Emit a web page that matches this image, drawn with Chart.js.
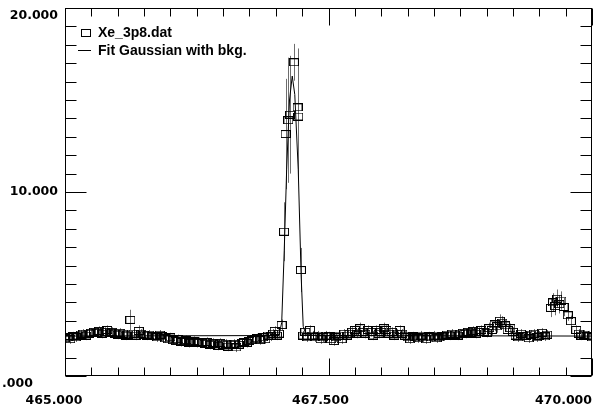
<!DOCTYPE html>
<html>
<head>
<meta charset="utf-8">
<title>Xe_3p8</title>
<script src="https://cdn.jsdelivr.net/npm/chart.js@4.4.1/dist/chart.umd.min.js"></script>
<style>
  html, body { margin: 0; padding: 0; background: #fff; }
  canvas { display: block; }
</style>
</head>
<body>
<canvas id="myChart" width="598" height="413"></canvas>
<script>
// scan data: wavelength, counts, error
const xValues = [
    465.000, 465.025, 465.050, 465.075, 465.100, 465.125, 465.150, 465.175, 465.200, 465.225,
    465.250, 465.275, 465.300, 465.325, 465.350, 465.375, 465.400, 465.425, 465.450, 465.475,
    465.500, 465.525, 465.550, 465.575, 465.600, 465.620, 465.650, 465.675, 465.700, 465.725,
    465.750, 465.775, 465.800, 465.825, 465.850, 465.875, 465.900, 465.925, 465.950, 465.975,
    466.000, 466.025, 466.050, 466.075, 466.100, 466.125, 466.150, 466.175, 466.200, 466.225,
    466.250, 466.275, 466.300, 466.325, 466.350, 466.375, 466.400, 466.425, 466.450, 466.475,
    466.500, 466.525, 466.550, 466.575, 466.600, 466.625, 466.650, 466.675, 466.700, 466.725,
    466.750, 466.775, 466.800, 466.825, 466.850, 466.875, 466.900, 466.925, 466.950, 466.975,
    466.990, 467.010, 467.030, 467.055, 467.078, 467.093, 467.119, 467.135, 467.172, 467.206,
    467.213, 467.238, 467.260, 467.280, 467.300, 467.325, 467.350, 467.375, 467.400, 467.425,
    467.450, 467.475, 467.500, 467.525, 467.550, 467.575, 467.600, 467.625, 467.650, 467.675,
    467.700, 467.725, 467.750, 467.775, 467.800, 467.825, 467.850, 467.875, 467.900, 467.925,
    467.950, 467.975, 468.000, 468.025, 468.050, 468.075, 468.100, 468.125, 468.150, 468.175,
    468.200, 468.225, 468.250, 468.275, 468.300, 468.325, 468.350, 468.375, 468.400, 468.425,
    468.450, 468.475, 468.500, 468.525, 468.550, 468.575, 468.600, 468.625, 468.650, 468.675,
    468.700, 468.725, 468.750, 468.775, 468.800, 468.825, 468.850, 468.875, 468.900, 468.925,
    468.950, 468.975, 469.000, 469.025, 469.050, 469.075, 469.100, 469.125, 469.150, 469.175,
    469.200, 469.225, 469.250, 469.275, 469.300, 469.325, 469.350, 469.375, 469.400, 469.425,
    469.450, 469.475, 469.500, 469.525, 469.550, 469.575, 469.610, 469.630, 469.650, 469.670,
    469.690, 469.710, 469.730, 469.770, 469.800, 469.850, 469.875, 469.900, 469.925, 469.950,
    469.975, 470.000
];
const counts = [
    2.05, 2.10, 2.00, 2.15, 2.10, 2.20, 2.25, 2.30, 2.20, 2.30,
    2.35, 2.40, 2.35, 2.45, 2.30, 2.40, 2.50, 2.35, 2.40, 2.30,
    2.25, 2.35, 2.30, 2.20, 2.25, 3.05, 2.30, 2.20, 2.45, 2.30,
    2.25, 2.20, 2.25, 2.15, 2.20, 2.10, 2.25, 2.15, 2.05, 2.00,
    2.10, 1.95, 1.90, 2.00, 1.85, 1.90, 1.95, 1.80, 1.85, 1.90,
    1.80, 1.85, 1.80, 1.75, 1.85, 1.70, 1.80, 1.75, 1.65, 1.80,
    1.70, 1.75, 1.60, 1.70, 1.75, 1.55, 1.70, 1.80, 1.85, 1.80,
    1.90, 1.95, 2.00, 2.05, 1.95, 2.10, 2.00, 2.20, 2.15, 2.30,
    2.45, 2.20, 2.30, 2.77, 7.84, 13.15, 13.90, 14.20, 17.05, 14.60,
    14.10, 5.76, 2.20, 2.40, 2.10, 2.50, 2.20, 2.10, 2.20, 2.00,
    2.10, 2.20, 2.15, 2.00, 1.90, 2.10, 2.20, 2.00, 2.30, 2.20,
    2.30, 2.40, 2.50, 2.30, 2.60, 2.40, 2.30, 2.50, 2.40, 2.20,
    2.50, 2.30, 2.40, 2.60, 2.50, 2.30, 2.40, 2.20, 2.30, 2.50,
    2.30, 2.20, 2.10, 2.00, 2.15, 2.10, 2.05, 2.20, 2.10, 2.00,
    2.15, 2.10, 2.20, 2.05, 2.10, 2.20, 2.15, 2.25, 2.20, 2.30,
    2.25, 2.20, 2.30, 2.35, 2.30, 2.40, 2.35, 2.45, 2.30, 2.40,
    2.50, 2.40, 2.35, 2.60, 2.50, 2.80, 2.70, 3.00, 2.90, 2.75,
    2.50, 2.60, 2.40, 2.20, 2.10, 2.30, 2.15, 2.20, 2.05, 2.25,
    2.30, 2.10, 2.20, 2.35, 2.15, 2.25, 3.70, 4.00, 3.80, 4.20,
    3.90, 4.10, 3.75, 3.30, 2.98, 2.50, 2.30, 2.20, 2.25, 2.15,
    2.20, 2.10
];
const errors = [
    0.25, 0.25, 0.25, 0.25, 0.25, 0.25, 0.25, 0.25, 0.25, 0.25,
    0.25, 0.25, 0.25, 0.25, 0.25, 0.25, 0.25, 0.25, 0.25, 0.25,
    0.25, 0.25, 0.25, 0.25, 0.25, 0.55, 0.25, 0.25, 0.30, 0.25,
    0.25, 0.25, 0.25, 0.25, 0.25, 0.25, 0.25, 0.25, 0.25, 0.25,
    0.25, 0.25, 0.25, 0.25, 0.25, 0.25, 0.25, 0.25, 0.25, 0.25,
    0.25, 0.25, 0.25, 0.25, 0.25, 0.25, 0.25, 0.25, 0.25, 0.25,
    0.25, 0.25, 0.25, 0.25, 0.25, 0.25, 0.25, 0.25, 0.25, 0.25,
    0.25, 0.25, 0.25, 0.25, 0.25, 0.25, 0.25, 0.25, 0.25, 0.25,
    0.25, 0.25, 0.25, 0.30, 1.60, 3.00, 3.40, 3.20, 1.00, 3.20,
    3.40, 1.20, 0.25, 0.25, 0.25, 0.25, 0.25, 0.25, 0.25, 0.25,
    0.25, 0.25, 0.25, 0.25, 0.25, 0.25, 0.25, 0.25, 0.25, 0.25,
    0.25, 0.25, 0.25, 0.25, 0.30, 0.25, 0.25, 0.25, 0.25, 0.25,
    0.25, 0.25, 0.25, 0.30, 0.25, 0.25, 0.25, 0.25, 0.25, 0.25,
    0.25, 0.25, 0.25, 0.25, 0.25, 0.25, 0.25, 0.25, 0.25, 0.25,
    0.25, 0.25, 0.25, 0.25, 0.25, 0.25, 0.25, 0.25, 0.25, 0.25,
    0.25, 0.25, 0.25, 0.25, 0.25, 0.25, 0.25, 0.25, 0.25, 0.25,
    0.25, 0.25, 0.25, 0.30, 0.30, 0.35, 0.35, 0.35, 0.35, 0.30,
    0.25, 0.25, 0.25, 0.25, 0.25, 0.25, 0.25, 0.25, 0.25, 0.25,
    0.25, 0.25, 0.25, 0.25, 0.25, 0.25, 0.50, 0.50, 0.50, 0.50,
    0.50, 0.50, 0.50, 0.30, 0.30, 0.25, 0.25, 0.25, 0.25, 0.25,
    0.25, 0.25
];

// fitted curve as drawn (gaussian on flat background)
const fitX = [465.000, 467.030, 467.056, 467.080, 467.103, 467.130, 467.156, 467.180, 467.213, 467.240, 467.260, 467.290, 470.000];
const fitY = [2.17, 2.20, 2.90, 6.80, 11.20, 15.00, 16.30, 15.30, 11.20, 5.50, 2.70, 2.20, 2.17];

const xTicks = [465, 467.5, 470];
const xTickLabels = ['465.000', '467.500', '470.000'];
const yTicks = [0, 10, 20];
const yTickLabels = ['.000', '10.000', '20.000'];
const legendLabels = ['Xe_3p8.dat', 'Fit Gaussian with bkg.'];

const LABEL_FONT = 'bold 12.5px "DejaVu Sans"';
const LEGEND_FONT = 'bold 14px "Liberation Sans"';

function makeMarker(w, h) {
    const c = document.createElement('canvas');
    c.width = w;
    c.height = h;
    const g = c.getContext('2d');
    g.strokeStyle = '#000';
    g.lineWidth = 1;
    g.strokeRect(0.5, 0.5, w - 1, h - 1);
    return c;
}
const marker = makeMarker(10, 8);

const errorBars = {
    id: 'errorBars',
    beforeDatasetsDraw(chart) {
        const { ctx, chartArea, scales: { x, y } } = chart;
        ctx.save();
        ctx.beginPath();
        ctx.rect(chartArea.left, chartArea.top, chartArea.right - chartArea.left, chartArea.bottom - chartArea.top);
        ctx.clip();
        ctx.strokeStyle = '#6e6e6e';
        ctx.lineWidth = 1;
        ctx.beginPath();
        xValues.forEach((xv, i) => {
            const px = Math.round(x.getPixelForValue(xv)) + 0.5;
            ctx.moveTo(px, y.getPixelForValue(counts[i] + errors[i]));
            ctx.lineTo(px, y.getPixelForValue(counts[i] - errors[i]));
        });
        ctx.stroke();
        ctx.restore();
    }
};

const frameAndLabels = {
    id: 'frameAndLabels',
    afterDraw(chart) {
        const { ctx, chartArea: a, scales: { x, y } } = chart;
        const L = Math.round(a.left) + 0.5, R = Math.round(a.right) - 0.5;
        const T = Math.round(a.top) + 0.5, B = Math.round(a.bottom) - 0.5;
        ctx.save();
        ctx.strokeStyle = '#000';
        ctx.lineWidth = 1;
        ctx.strokeRect(L, T, R - L, B - T);

        // inward ticks
        ctx.beginPath();
        for (let i = 0; i <= 20; i++) {
            const v = x.min + i * 0.25;
            const px = Math.round(x.getPixelForValue(v)) + 0.5;
            const len = (i % 10 === 0) ? 17 : 8;
            ctx.moveTo(px, B); ctx.lineTo(px, B - len);
            ctx.moveTo(px, T); ctx.lineTo(px, T + len);
        }
        for (let i = 0; i <= 20; i++) {
            const py = Math.round(y.getPixelForValue(y.min + i)) + 0.5;
            const len = (i % 10 === 0) ? 21 : 11;
            ctx.moveTo(L, py); ctx.lineTo(L + len, py);
            ctx.moveTo(R, py); ctx.lineTo(R - len, py);
        }
        ctx.stroke();

        // tick labels
        ctx.fillStyle = '#000';
        ctx.font = LABEL_FONT;
        ctx.textBaseline = 'middle';
        xTicks.forEach((v, i) => {
            const px = x.getPixelForValue(v);
            if (i === xTicks.length - 1) {
                ctx.textAlign = 'right';
                ctx.fillText(xTickLabels[i], a.right, 401);
            } else {
                ctx.textAlign = 'center';
                ctx.fillText(xTickLabels[i], px - (i === 0 ? 11 : 8), 401);
            }
        });
        yTicks.forEach((v, i) => {
            const py = y.getPixelForValue(v);
            if (v === 0) {
                ctx.textAlign = 'left';
                ctx.fillText(yTickLabels[i], 2, py + 8);
            } else {
                ctx.textAlign = 'right';
                ctx.fillText(yTickLabels[i], 58, v === y.max ? py + 8 : py);
            }
        });

        // legend
        ctx.font = LEGEND_FONT;
        ctx.textAlign = 'left';
        ctx.drawImage(marker, a.left + 16, 29);
        ctx.beginPath();
        ctx.moveTo(a.left + 13, 50.5);
        ctx.lineTo(a.left + 26, 50.5);
        ctx.stroke();
        ctx.fillText(legendLabels[0], a.left + 33, 33);
        ctx.fillText(legendLabels[1], a.left + 33, 51);
        ctx.restore();
    }
};

const ctx = document.getElementById('myChart').getContext('2d');
new Chart(ctx, {
    type: 'scatter',
    data: {
        datasets: [
            {
                label: legendLabels[0],
                data: xValues.map((xv, i) => ({ x: xv, y: counts[i] })),
                pointStyle: marker,
                pointRadius: 5,
                showLine: false
            },
            {
                label: legendLabels[1],
                data: fitX.map((xv, i) => ({ x: xv, y: fitY[i] })),
                showLine: true,
                borderColor: '#000',
                borderWidth: 1,
                pointRadius: 0,
                tension: 0
            }
        ]
    },
    options: {
        responsive: false,
        animation: false,
        devicePixelRatio: 1,
        layout: { padding: { left: 65, right: 2, top: 8, bottom: 37 } },
        plugins: {
            legend: { display: false },
            tooltip: { enabled: false }
        },
        scales: {
            x: { type: 'linear', min: 465, max: 470, display: false },
            y: { type: 'linear', min: 0, max: 20, display: false }
        }
    },
    plugins: [errorBars, frameAndLabels]
});
</script>
</body>
</html>
